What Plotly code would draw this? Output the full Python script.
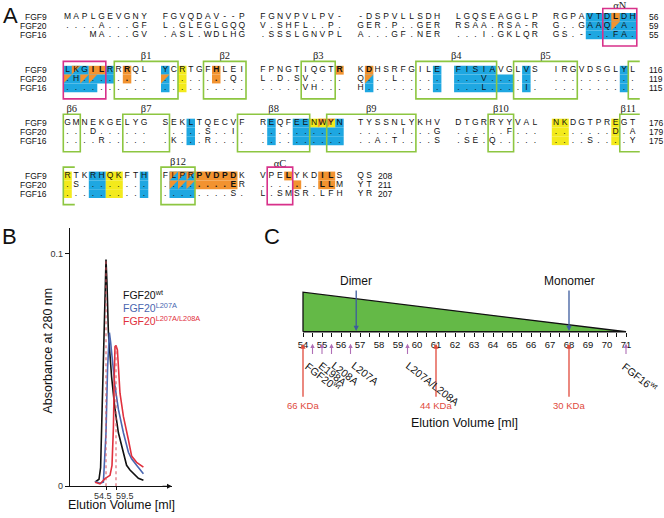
import plotly.graph_objects as go

W, H = 664, 518
FONT = "Liberation Sans, Arial, sans-serif"
SERIF = "Liberation Serif, Times New Roman, serif"

# ---------------- Panel A : alignment data ----------------
seq_names = ["FGF9", "FGF20", "FGF16"]
FGF9 = [
    ["MAPLGEVGNY", "FGVQDAV--P", "FGNVPVLPV-", "-DSPVLLSDH", "LGQSEAGGLP", "RGPAVTDLDH"],
    ["LKGILRRRQL", "YCRTGFHLEI", "FPNGTIQGTR", "KDHSRFGILE", "FISIAVGLVS", "IRGVDSGLYL"],
    ["GMNEKGELYG", "SEKLTQECVF", "REQFEENWYN", "TYSSNLYKHV", "DTGRRYYVAL", "NKDGTPREGT"],
    ["RTKRHQKFTH", "FLPRPVDPDK", "VPELYKDILS", "QS"],
]
FGF20 = [
    ["....A...GF", "L.GLEGLGQQ", "V.SHFL..P.", "GER.P..GER", "RSAA.RSA-R", "G..GAAQ.A."],
    [".H........", "........Q.", "L.D.SV....", "Q...L.....", "...V......", ".........."],
    ["...D......", ".....S..I.", "..........", ".....I...G", "......F...", ".......D.A"],
    [".S........", "........ER", ".......LLM", "YT"],
]
FGF16 = [
    ["   MA...GV", ".ASL.WDLHG", ".SSSLGNVPL", "A...GF.NER", "...I.GKLQR", "GS.--..FA."],
    ["..........", "..........", ".....VH...", "H.........", "...L....I.", ".........."],
    ["....R.....", ".K...R....", "..........", "..A.T....S", ".SE.Q.....", "....S....Y"],
    ["..........", "........S.", "L.SMSR.LFH", "YR"],
]
block_end_numbers = [["56", "59", "55"], ["116", "119", "115"],
                     ["176", "179", "175"], ["208", "211", "207"]]

# highlights: (block, rows, first column, last column, kind)
highlights = [
    (0, (0, 1, 2), 54, 59, "cyan"), (0, (0,), 57, 57, "orange"), (0, (1,), 57, 57, "tri"),
    (1, (0,), 0, 2, "cyan"), (1, (0,), 5, 5, "cyan"), (1, (0,), 3, 4, "orange"), (1, (0,), 1, 1, "tri"),
    (1, (1,), 0, 5, "cyan"), (1, (1,), 0, 0, "tri"), (1, (1,), 2, 3, "tri"),
    (1, (2,), 0, 3, "cyan"),
    (1, (0, 1), 7, 7, "orange"),
    (1, (0, 1, 2), 10, 10, "cyan"), (1, (1,), 10, 10, "tri"),
    (1, (0, 1, 2), 12, 12, "yellow"),
    (1, (0, 1), 16, 16, "orange"),
    (1, (0,), 29, 29, "orange"),
    (1, (0,), 31, 31, "orange"), (1, (1, 2), 31, 31, "cyan"), (1, (1,), 31, 31, "tri"),
    (1, (0, 1, 2), 39, 39, "cyan"),
    (1, (0,), 40, 44, "cyan"), (1, (1, 2), 40, 46, "cyan"),
    (1, (0, 1, 2), 48, 48, "cyan"),
    (1, (0, 1, 2), 58, 58, "cyan"),
    (2, (0, 1, 2), 13, 13, "cyan"),
    (2, (0, 1, 2), 21, 21, "cyan"),
    (2, (0, 1, 2), 24, 25, "cyan"),
    (2, (0,), 26, 28, "yellow"), (2, (0,), 29, 29, "cyan"), (2, (0,), 27, 28, "tri"),
    (2, (1, 2), 26, 29, "cyan"),
    (2, (0, 1, 2), 50, 51, "yellow"),
    (2, (0, 1, 2), 57, 57, "yellow"),
    (3, (0, 1, 2), 0, 0, "yellow"),
    (3, (0, 1, 2), 3, 4, "cyan"),
    (3, (0, 1, 2), 5, 6, "yellow"),
    (3, (0, 1, 2), 9, 9, "cyan"),
    (3, (0, 1, 2), 11, 13, "cyan"), (3, (0, 1), 11, 13, "tri"),
    (3, (0, 1), 14, 18, "orange"),
    (3, (0,), 23, 23, "orange"), (3, (1,), 24, 24, "orange"),
    (3, (0, 1), 27, 28, "orange"),
]
# secondary structure boxes: (block, first col, last col, open side, label)
green_boxes = [
    (1, 6, 11, None, "β1"), (1, 15, 19, None, "β2"), (1, 25, 28, None, "β3"),
    (1, 37, 44, None, "β4"), (1, 47, 52, None, "β5"), (1, 59, 59, "right", ""),
    (2, 0, 1, None, "β6"), (2, 7, 10, None, "β7"), (2, 19, 25, None, "β8"),
    (2, 28, 36, None, "β9"), (2, 44, 46, None, "β10"), (2, 58, 59, "right", "β11"),
    (3, 0, 0, "right", ""), (3, 10, 13, None, "β12"),
]
magenta_boxes = [(0, 56, 59, "αN"), (1, 0, 4, ""), (3, 21, 23, "αC")]

# ---------------- Panel B : elution profiles ----------------
vol_wt = [49.0, 51.0, 51.8, 52.3, 53.0, 53.5, 54.1, 54.5, 55.0, 55.7, 57.3, 59.0, 60.7,
          63.2, 64.8, 66.5, 68.2, 70.7, 73.2]
abs_wt = [0.0018, 0.003, 0.008, 0.023, 0.045, 0.066, 0.088, 0.0975, 0.087, 0.066, 0.047,
          0.033, 0.023, 0.0146, 0.009, 0.007, 0.0055, 0.0034, 0.0026]
vol_l207a = [49.0, 51.5, 53.2, 54.5, 55.3, 55.8, 56.2, 56.8, 57.3, 59.0, 60.7, 63.2, 65.7,
             67.3, 69.8, 73.2]
abs_l207a = [0.002, 0.0013, 0.0018, 0.023, 0.051, 0.063, 0.066, 0.062, 0.057, 0.043, 0.033,
             0.023, 0.0146, 0.0118, 0.009, 0.0054]
vol_dbl = [49.0, 51.5, 54.0, 56.5, 57.5, 58.2, 58.7, 59.0, 59.5, 60.2, 61.5, 63.2, 65.7,
           67.3, 69.8, 73.2]
abs_dbl = [0.0017, 0.001, 0.0033, 0.0047, 0.009, 0.025, 0.05, 0.060, 0.0605, 0.0586, 0.040,
           0.030, 0.020, 0.013, 0.0103, 0.0082]
peak_marks = [54.5, 59.5]
peak_heights = [0.0975, 0.0605]
legend_names = ["FGF20<sup>wt</sup>", "FGF20<sup>L207A</sup>", "FGF20<sup>L207A/L208A</sup>"]

# ---------------- Panel C : elution scale ----------------
scale_ticks = list(range(54, 72))
dimer_vol, monomer_vol = 56.8, 68.0
variant_names = ["FGF20<sup>wt</sup>", "E198A", "L208A", "L207A", "L207A/L208A", "FGF16<sup>wt</sup>"]
variant_vol = [54.5, 55.0, 55.5, 56.5, 59.5, 71.0]
standard_names = ["66 KDa", "44 KDa", "30 KDa"]
standard_vol = [54, 61, 68]

CYAN, ORANGE, YELLOW = "#1ea7e1", "#f29330", "#f3ea1c"
GREEN, MAGENTA = "#8dc641", "#d8318a"
COLORS = {"cyan": CYAN, "orange": ORANGE, "yellow": YELLOW}


def px2x(p):
    return p / W


def px2y(p):
    return 1 - p / H


def ucol(c):
    return c + 1.494 * (c // 10)


def vrow(b, r):
    return 6 * b + r


fig = go.Figure()
shapes = []
annotations = []

# --- Panel A highlights ---
orange_cells = set()
rects, tris = [], []
for b, rows, c0, c1, kind in highlights:
    for r in rows:
        v = vrow(b, r)
        if kind == "tri":
            for c in range(c0, c1 + 1):
                x0, x1 = ucol(c), ucol(c) + 1
                tris.append(dict(type="path", xref="x2", yref="y2", layer="below",
                                 path=f"M {x0},{v-0.5} L {x1},{v-0.5} L {x0},{v+0.5} Z",
                                 fillcolor=ORANGE, line=dict(width=0)))
            continue
        if kind == "orange":
            for c in range(c0, c1 + 1):
                orange_cells.add((b, r, c))
        c = c0
        while c <= c1:
            g_end = min(c1, (c // 10) * 10 + 9)
            rects.append(dict(type="rect", xref="x2", yref="y2", layer="below",
                              x0=ucol(c), x1=ucol(g_end) + 1, y0=v - 0.5, y1=v + 0.5,
                              fillcolor=COLORS[kind], line=dict(width=0)))
            c = g_end + 1
shapes += rects + tris


def box(b, c0, c1, color, open_side, width):
    x0, x1 = ucol(c0), ucol(c1) + 1
    if open_side == "right":
        x1 += 0.35
    y0, y1 = vrow(b, 0) - 1.0, vrow(b, 2) + 1.25
    if open_side is None:
        return dict(type="rect", xref="x2", yref="y2", x0=x0, x1=x1, y0=y0, y1=y1,
                    line=dict(color=color, width=width), fillcolor="rgba(0,0,0,0)")
    if open_side == "right":
        p = f"M {x1},{y0} L {x0},{y0} L {x0},{y1} L {x1},{y1}"
    else:
        p = f"M {x0},{y0} L {x1},{y0} L {x1},{y1} L {x0},{y1}"
    return dict(type="path", xref="x2", yref="y2", path=p,
                line=dict(color=color, width=width))


greek_x, greek_y, greek_t = [], [], []
for b, c0, c1, side, lab in green_boxes:
    shapes.append(box(b, c0, c1, GREEN, side, 1.6))
    if lab:
        greek_x.append((ucol(c0) + ucol(c1) + 1) / 2)
        greek_y.append(vrow(b, 0) - 1.6)
        greek_t.append(lab)
for b, c0, c1, lab in magenta_boxes:
    shapes.append(box(b, c0, c1, MAGENTA, None, 1.6))
    if lab:
        greek_x.append((ucol(c0) + ucol(c1) + 1) / 2)
        greek_y.append(vrow(b, 0) - 1.3)
        greek_t.append(lab)
fig.add_trace(go.Scatter(x=greek_x, y=greek_y, mode="text", text=greek_t, xaxis="x2",
                         yaxis="y2", cliponaxis=False,
                         textfont=dict(family=SERIF, size=10.5, color="#222"),
                         hoverinfo="skip", showlegend=False))

# --- Panel A sequence text ---
for r, rows in enumerate([FGF9, FGF20, FGF16]):
    xs, ys, ts = [], [], []
    for b, groups in enumerate(rows):
        s = "".join(groups)
        for c, ch in enumerate(s):
            if ch == " ":
                continue
            xs.append(ucol(c) + 0.5)
            ys.append(vrow(b, r))
            ts.append(f"<b>{ch}</b>" if (b, r, c) in orange_cells else ch)
    fig.add_trace(go.Scatter(x=xs, y=ys, text=ts, mode="text", xaxis="x2", yaxis="y2",
                             textfont=dict(family=FONT, size=8.5, color="#111"),
                             hoverinfo="skip", showlegend=False))
    for b in range(4):
        annotations.append(dict(xref="x2", yref="y2", x=-1.75, y=vrow(b, r),
                                text=seq_names[r], showarrow=False, xanchor="right",
                                yanchor="middle", borderpad=0,
                                font=dict(family=FONT, size=8.5, color="#111")))
        annotations.append(dict(xref="x2", yref="y2", x=68.75 if b < 3 else 36.9,
                                y=vrow(b, r), text=block_end_numbers[b][r], showarrow=False,
                                xanchor="left", yanchor="middle", borderpad=0,
                                font=dict(family=FONT, size=8.5, color="#111")))

# --- Panel B ---
for vx, vy, col in [(vol_wt, abs_wt, "#111111"), (vol_l207a, abs_l207a, "#4a66b0"),
                    (vol_dbl, abs_dbl, "#e1303d")]:
    fig.add_trace(go.Scatter(x=vx, y=vy, mode="lines", line=dict(color=col, width=1.6),
                             xaxis="x", yaxis="y", hoverinfo="skip", showlegend=False))
for xv, hv in zip(peak_marks, peak_heights):
    shapes.append(dict(type="line", xref="x", yref="y", x0=xv, x1=xv, y0=0, y1=hv,
                       line=dict(color="#d9505c", width=1, dash="dot")))
annotations.append(dict(xref="x", yref="y", x=54.5, y=0, text="54.5", showarrow=False,
                        xanchor="center", yanchor="top", yshift=-3, xshift=-3,
                        font=dict(size=9, color="#333", family=FONT)))
annotations.append(dict(xref="x", yref="y", x=59.5, y=0, text="59.5", showarrow=False,
                        xanchor="center", yanchor="top", yshift=-3, xshift=9,
                        font=dict(size=9, color="#333", family=FONT)))
annotations.append(dict(xref="x", yref="y", axref="x", ayref="y", x=87.4, y=0, ax=82, ay=0,
                        text="", showarrow=True, arrowhead=2, arrowsize=0.8, arrowwidth=1.2,
                        arrowcolor="#111"))
for i, (name, col) in enumerate(zip(legend_names, ["#111111", "#4a66b0", "#e1303d"])):
    annotations.append(dict(xref="paper", yref="paper", x=px2x(121), y=px2y(297 + 13.5 * i),
                            text=name, showarrow=False, xanchor="left", yanchor="middle",
                            font=dict(size=10.5, color=col, family=FONT)))
annotations.append(dict(xref="paper", yref="paper", x=px2x(48), y=px2y(354),
                        text="Absorbance at 280 nm", textangle=-90, showarrow=False,
                        xanchor="center", yanchor="middle",
                        font=dict(size=12.5, color="#111", family=FONT)))
annotations.append(dict(xref="paper", yref="paper", x=px2x(121), y=px2y(510),
                        text="Elution Volume [ml]", showarrow=False,
                        xanchor="center", yanchor="middle",
                        font=dict(size=12.5, color="#111", family=FONT)))

# --- Panel C ---  (y3 units: 0 = base of the wedge, 1 = its top; 40 px per unit)
C_BASE, C_UNIT = 335, 40.0
fig.add_trace(go.Scatter(x=[54, 54, 71, 54], y=[0, 1, 0, 0], mode="lines", fill="toself",
                         fillcolor="#64b947", line=dict(color="#111", width=1.3),
                         xaxis="x3", yaxis="y3", hoverinfo="skip", showlegend=False))
for xv, lab in [(dimer_vol, "Dimer"), (monomer_vol, "Monomer")]:
    annotations.append(dict(xref="x3", yref="y3", axref="x3", ayref="y3", x=xv, y=0.02,
                            ax=xv, ay=1.08, text="", showarrow=True, arrowhead=2,
                            arrowsize=0.8, arrowwidth=1.3, arrowcolor="#3d5c9e"))
    annotations.append(dict(xref="x3", yref="y3", x=xv, y=1.27, text=lab, showarrow=False,
                            xanchor="center", yanchor="middle",
                            font=dict(size=12, color="#111", family=FONT)))
for xv, lab in zip(standard_vol, standard_names):
    annotations.append(dict(xref="x3", yref="y3", axref="x3", ayref="y3", x=xv, y=-0.3,
                            ax=xv, ay=-1.68, text="", showarrow=True, arrowhead=2,
                            arrowsize=0.8, arrowwidth=1.3, arrowcolor="#e04a3c"))
    annotations.append(dict(xref="x3", yref="y3", x=xv, y=-1.85, text=lab, showarrow=False,
                            xanchor="center", yanchor="middle",
                            font=dict(size=9.5, color="#e04a3c", family=FONT)))
label_shift = [-12, -8, -5, -4, -6, -9]
for xv, lab, sh in zip(variant_vol, variant_names, label_shift):
    annotations.append(dict(xref="x3", yref="y3", axref="x3", ayref="y3", x=xv, y=-0.3,
                            ax=xv, ay=-0.6, text="", showarrow=True, arrowhead=2,
                            arrowsize=0.8, arrowwidth=1.1, arrowcolor="#b06fb6"))
    annotations.append(dict(xref="x3", yref="y3", x=xv, y=-0.62, text=lab, showarrow=False,
                            textangle=38, xanchor="left", yanchor="top", xshift=sh,
                            font=dict(size=10.5, color="#111", family=FONT)))
annotations.append(dict(xref="x3", yref="y3", x=62.5, y=-2.3, text="Elution Volume [ml]",
                        showarrow=False, xanchor="center", yanchor="middle",
                        font=dict(size=12.5, color="#111", family=FONT)))

# panel letters
for lab, px, py in [("A", 1, 1), ("B", 0, 224), ("C", 262, 224)]:
    annotations.append(dict(xref="paper", yref="paper", x=px2x(px), y=px2y(py), text=lab,
                            showarrow=False, xanchor="left", yanchor="top",
                            font=dict(size=22, color="#111", family=FONT)))

C_TOP, C_BOT = 275, 440
fig.update_layout(
    width=W, height=H, margin=dict(l=0, r=0, t=0, b=0), autosize=False,
    paper_bgcolor="white", plot_bgcolor="rgba(0,0,0,0)",
    font=dict(family=FONT), showlegend=False,
    shapes=shapes, annotations=annotations,
    xaxis=dict(domain=[px2x(70), px2x(172)], range=[36.5, 87.5], autorange=False, anchor="y",
               showline=True, linecolor="#111", linewidth=1.2, showgrid=False, zeroline=False,
               tickvals=peak_marks, ticks="outside", ticklen=3, tickcolor="#111",
               showticklabels=False),
    yaxis=dict(domain=[px2y(491), px2y(230)], range=[0, 0.1111], autorange=False, anchor="x",
               showline=True, linecolor="#111", linewidth=1.2, showgrid=False, zeroline=False,
               tickvals=[0, 0.1], ticktext=["0", "0.1"], ticks="outside", ticklen=4,
               tickcolor="#111", tickfont=dict(size=9, color="#333", family=FONT)),
    xaxis2=dict(domain=[0, 1], range=[-63.3 / 8.5, (W - 63.3) / 8.5], autorange=False,
                anchor="y2", showline=False, showgrid=False, zeroline=False,
                showticklabels=False, ticks=""),
    yaxis2=dict(domain=[0, 1], range=[(H - 17.5) / 8.9, -17.5 / 8.9], autorange=False,
                anchor="x2", showline=False, showgrid=False, zeroline=False,
                showticklabels=False, ticks=""),
    xaxis3=dict(domain=[px2x(293), px2x(636)], range=[54 - 10 / 19, 71 + 10 / 19],
                autorange=False, anchor="free", position=px2y(C_BASE),
                showline=False, showgrid=False, zeroline=False,
                tickvals=scale_ticks, ticks="outside", ticklen=4, tickcolor="#111",
                tickfont=dict(size=9.5, color="#111", family=FONT),
                minor=dict(tickvals=[t + 0.5 for t in scale_ticks[:-1]], ticks="outside",
                           ticklen=4, tickcolor="#111", showgrid=False)),
    yaxis3=dict(domain=[px2y(C_BOT), px2y(C_TOP)],
                range=[(C_BASE - C_BOT) / C_UNIT, (C_BASE - C_TOP) / C_UNIT],
                autorange=False, anchor="x3", showline=False, showgrid=False,
                zeroline=False, showticklabels=False, ticks=""),
)

fig.write_html("out.html", config={"displayModeBar": False},
               post_script="document.body.style.margin='0px';")
